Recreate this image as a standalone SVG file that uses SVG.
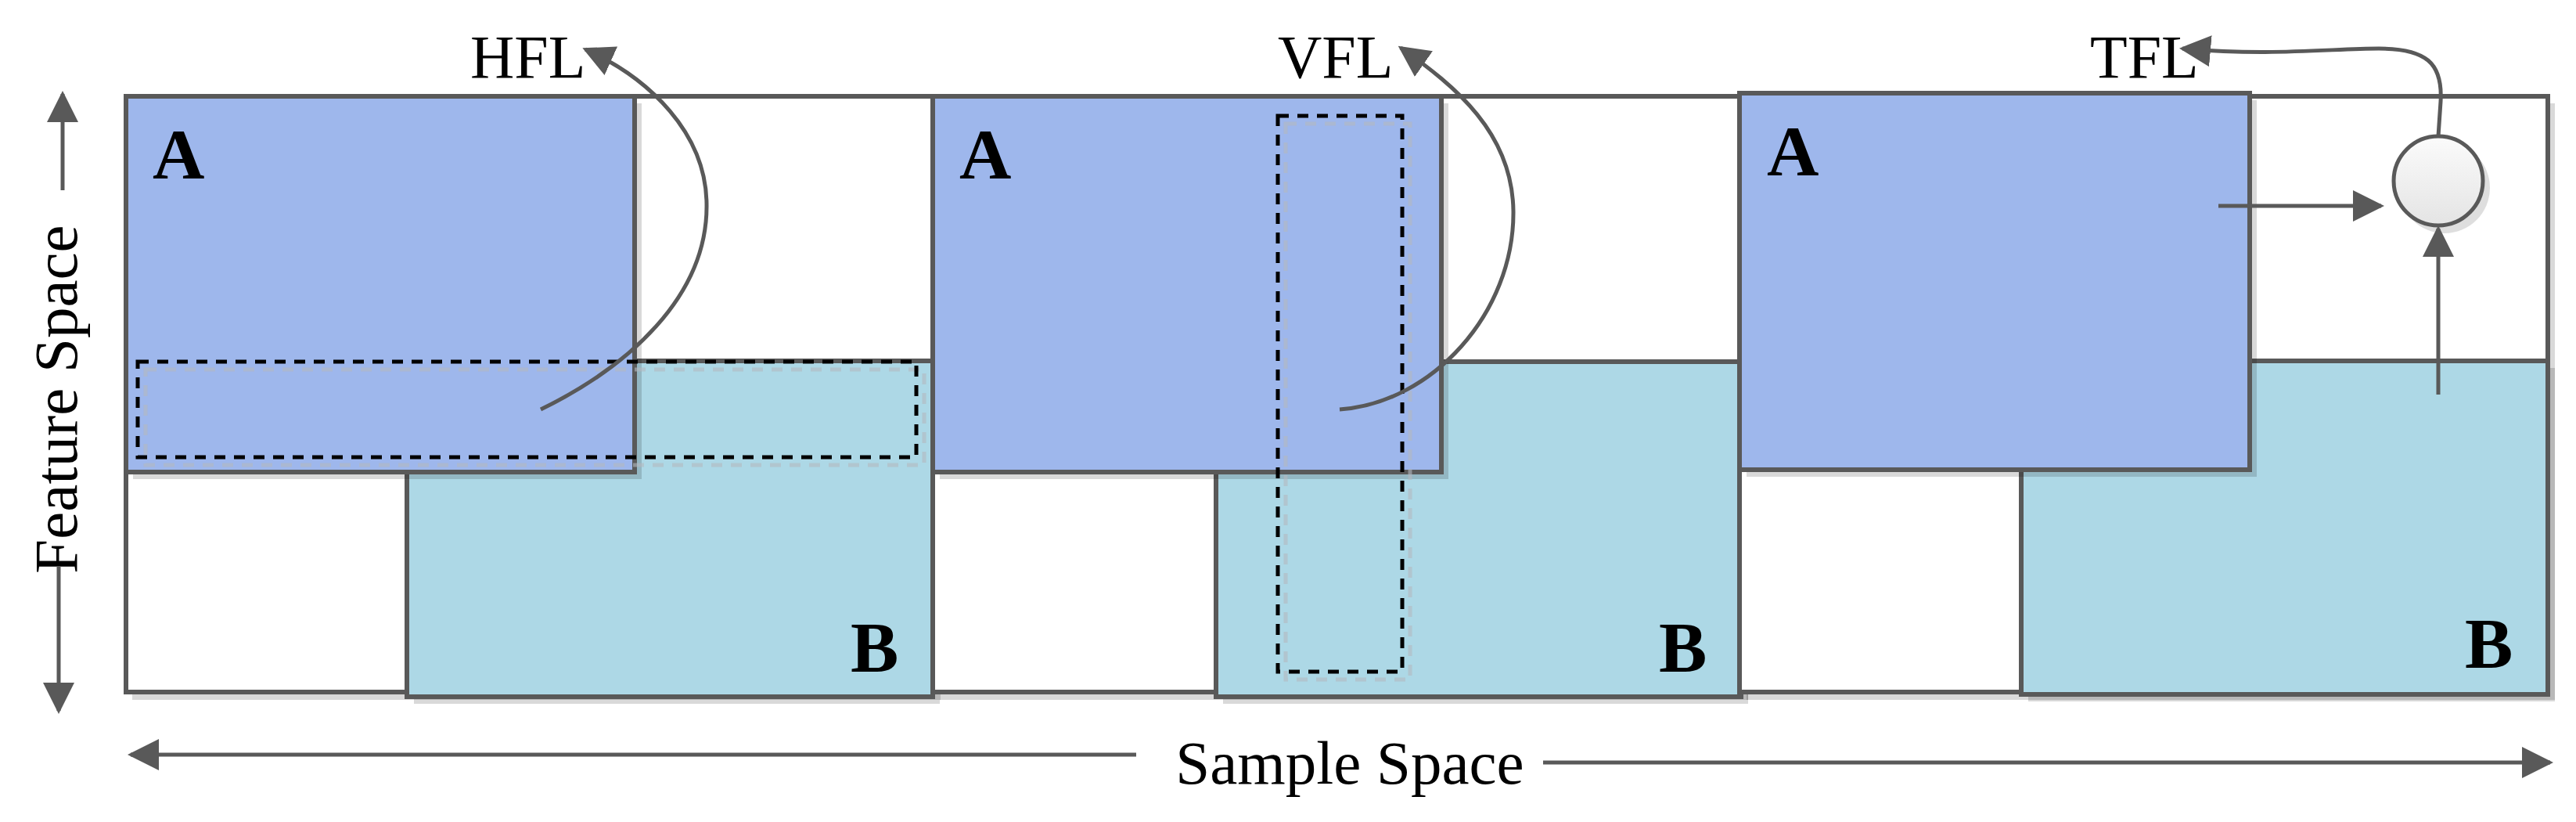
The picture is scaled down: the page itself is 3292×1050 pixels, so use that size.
<svg xmlns="http://www.w3.org/2000/svg" width="3292" height="1050" viewBox="0 0 3292 1050">
<style>
.frame{fill:#ffffff;stroke:#595959;stroke-width:6}
.a{fill:#9eb7ec;stroke:#595959;stroke-width:6}
.b{fill:#add8e6;stroke:#595959;stroke-width:6}
.sh{fill:#000000;fill-opacity:0.15}
.dash{fill:none;stroke:#000000;stroke-width:5;stroke-dasharray:14 11}
.dashsh{fill:none;stroke:#b4b9c0;stroke-opacity:0.6;stroke-width:5;stroke-dasharray:14 11}
.ln{fill:none;stroke:#595959;stroke-width:5}
.arc{fill:none;stroke:#595959;stroke-width:5}
.lbl{font-family:"Liberation Serif","Times New Roman",serif;font-size:78px;fill:#000}
.big{font-family:"Liberation Serif","Times New Roman",serif;font-size:92px;font-weight:bold;fill:#000}
.axis{font-family:"Liberation Serif","Times New Roman",serif;font-size:79px;fill:#000}
</style>
<defs>
<marker id="ah" markerUnits="userSpaceOnUse" markerWidth="40" markerHeight="40" viewBox="0 0 40 40" refX="36" refY="20" orient="auto">
<path d="M0,0 L40,20 L0,40 z" fill="#595959"/>
</marker>
<linearGradient id="cg" x1="0" y1="0" x2="0" y2="1">
<stop offset="0" stop-color="#fbfbfb"/>
<stop offset="1" stop-color="#e4e4e4"/>
</linearGradient>
</defs>

<g id="panel-hfl">
<rect class="sh" x="169" y="132" width="1033" height="762"/>
<rect class="frame" x="161" y="123" width="1031" height="761"/>
<rect class="sh" x="529" y="470" width="672" height="429"/>
<rect class="b" x="520" y="461" width="672" height="429"/>
<rect class="sh" x="170" y="132" width="650" height="480"/>
<rect class="a" x="161" y="123" width="650" height="480"/>
<rect class="dashsh" x="186" y="472" width="995" height="122"/>
<rect class="dash" x="176" y="462" width="995" height="122"/>
<text class="big" x="195" y="228">A</text>
<text class="big" x="1087" y="858">B</text>
<text class="lbl" x="601" y="99">HFL</text>
</g>

<g id="panel-vfl">
<rect class="sh" x="1201" y="132" width="1033" height="762"/>
<rect class="frame" x="1192" y="123" width="1033" height="761"/>
<rect class="sh" x="1563" y="471" width="671" height="428"/>
<rect class="b" x="1554" y="462" width="671" height="428"/>
<rect class="sh" x="1201" y="132" width="650" height="480"/>
<rect class="a" x="1192" y="123" width="650" height="480"/>
<rect class="dashsh" x="1643" y="158" width="159" height="710"/>
<rect class="dash" x="1633" y="148" width="159" height="710"/>
<text class="big" x="1226" y="228">A</text>
<text class="big" x="2120" y="858">B</text>
<text class="lbl" x="1633" y="99">VFL</text>
</g>

<g id="panel-tfl">
<rect class="sh" x="2232" y="132" width="1033" height="762"/>
<rect class="frame" x="2223" y="123" width="1033" height="761"/>
<rect class="sh" x="2592" y="470" width="673" height="426"/>
<rect class="b" x="2583" y="461" width="673" height="426"/>
<rect class="sh" x="2232" y="128" width="652" height="481"/>
<rect class="a" x="2223" y="119" width="652" height="481"/>
<text class="big" x="2258" y="224">A</text>
<text class="big" x="3150" y="853">B</text>
<text class="lbl" x="2671" y="99">TFL</text>
</g>

<g id="aggregator">
<circle cx="3124" cy="240" r="58" fill="#000" fill-opacity="0.13"/>
<circle cx="3116" cy="231" r="57" fill="url(#cg)" stroke="#595959" stroke-width="5"/>
</g>

<g id="axes">
<text class="axis" x="1725" y="1001" text-anchor="middle">Sample Space</text>
<text class="axis" transform="translate(98,510) rotate(-90)" x="0" y="0" text-anchor="middle">Feature Space</text>
</g>

<g id="connectors">
<path class="arc" d="M691,523 C800,470 905,380 903,260 C902,170 830,100 748,63" marker-end="url(#ah)"/>
<path class="arc" d="M1712,523 C1830,515 1935,400 1934,270 C1933,170 1860,110 1790,61" marker-end="url(#ah)"/>
<path class="ln" d="M3116,174 L3119,130 C3122,80 3100,62 3040,62 C2980,62 2900,72 2789,62" marker-end="url(#ah)"/>
<path class="ln" d="M2835,263 L3043,263" marker-end="url(#ah)"/>
<path class="ln" d="M3116,504 L3116,292" marker-end="url(#ah)"/>
<path class="ln" d="M1452,964 L167,964" marker-end="url(#ah)"/>
<path class="ln" d="M1972,974 L3259,974" marker-end="url(#ah)"/>
<path class="ln" d="M80,243 L80,120" marker-end="url(#ah)"/>
<path class="ln" d="M75,723 L75,908" marker-end="url(#ah)"/>
</g>
</svg>
